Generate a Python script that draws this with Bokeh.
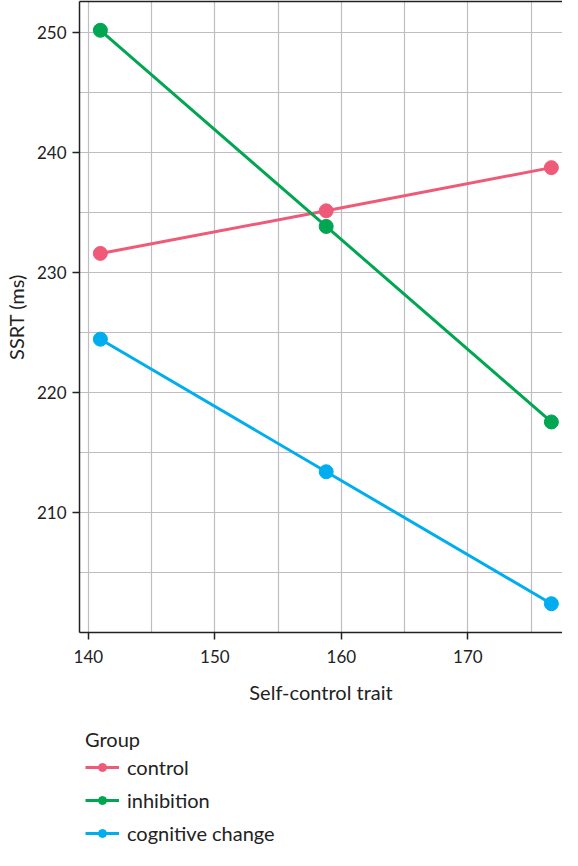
from bokeh.plotting import figure
from bokeh.layouts import column
from bokeh.models import FixedTicker, Range1d, Legend, LegendItem, LinearAxis
from bokeh.embed import file_html
from bokeh.resources import INLINE

trait = [140.95, 158.8, 176.6]
groups = ["control", "inhibition", "cognitive change"]
control = [231.6, 235.15, 238.75]
inhibition = [250.2, 233.85, 217.55]
cognitive = [224.45, 213.4, 202.4]
colors = ["#EE5A78", "#00A651", "#00AEEF"]
x_ticks = [140, 150, 160, 170]
x_minor = [145, 155, 165, 175]
y_ticks = [210, 220, 230, 240, 250]
y_minor = [205, 215, 225, 235, 245]

FONT = "Lato"
INK = "#222222"

p = figure(frame_width=483, frame_height=631, output_backend="svg",
           toolbar_location=None, x_range=Range1d(139.3, 177.48),
           y_range=Range1d(200, 252.6), min_border_top=1, min_border_right=0,
           min_border_left=79, min_border_bottom=0)
p.background_fill_color = "white"
p.border_fill_color = "white"
p.outline_line_color = None

series = [control, inhibition, cognitive]
for vals, name, col in zip(series, groups, colors):
    p.line(trait, vals, line_color=col, line_width=3)
    p.scatter(trait, vals, size=14, fill_color=col, line_color=col)

xax = p.below[0]
yax = p.left[0]
xax.ticker = FixedTicker(ticks=x_ticks, minor_ticks=x_minor)
yax.ticker = FixedTicker(ticks=y_ticks, minor_ticks=y_minor)
for ax in [xax, yax]:
    ax.axis_line_color = INK
    ax.axis_line_width = 1.5
    ax.major_tick_line_color = INK
    ax.major_tick_line_width = 1.5
    ax.major_tick_in = 0
    ax.major_tick_out = 7
    ax.minor_tick_line_color = None
    ax.major_label_text_font = FONT
    ax.major_label_text_font_size = "17px"
    ax.major_label_text_color = INK
    ax.axis_label_text_font = FONT
    ax.axis_label_text_font_size = "20px"
    ax.axis_label_text_font_style = "normal"
    ax.axis_label_text_color = INK
xax.axis_label = "Self-control trait"
yax.axis_label = "SSRT (ms)"
xax.axis_label_standoff = 14
yax.axis_label_standoff = 6
xax.major_label_standoff = 10
yax.major_label_standoff = 6

top = LinearAxis(ticker=FixedTicker(ticks=[]), axis_line_color=INK,
                 axis_line_width=1.5, major_tick_out=0, major_tick_in=0,
                 major_label_standoff=0, major_label_text_font_size="0px",
                 minor_tick_line_color=None, major_tick_line_color=None)
p.add_layout(top, "above")

for g in [p.xgrid[0], p.ygrid[0]]:
    g.grid_line_color = "#BDBDC2"
    g.grid_line_width = 1.2
    g.minor_grid_line_color = "#BDBDC2"
    g.minor_grid_line_width = 1.2

# legend panel: a second figure holding only the legend (its data lies out of view)
LM = 6
q = figure(width=562, height=139, output_backend="svg", toolbar_location=None,
           x_axis_location=None, y_axis_location=None,
           x_range=Range1d(0, 1), y_range=Range1d(0, 1),
           min_border_left=79, min_border_right=0, min_border_top=15,
           min_border_bottom=0)
q.grid.visible = False
q.outline_line_color = None
q.background_fill_color = "white"
items = []
for vals, name, col in zip(series, groups, colors):
    l = q.line(trait, vals, line_color=col, line_width=3)
    c = q.scatter(trait, vals, size=11, fill_color=col, line_color=col)
    items.append(LegendItem(label=name, renderers=[l, c]))

legend = Legend(items=items, title="Group", orientation="vertical",
                location="top_left")
legend.title_text_font = FONT
legend.title_text_font_size = "20px"
legend.title_text_font_style = "normal"
legend.title_text_color = INK
legend.title_standoff = 4
legend.label_text_font = FONT
legend.label_text_font_size = "20px"
legend.label_text_color = INK
legend.glyph_width = 34
legend.glyph_height = 20
legend.label_height = 20
legend.spacing = 9
legend.label_standoff = 8
legend.border_line_color = None
legend.background_fill_alpha = 0
legend.padding = 0
legend.margin = LM
q.add_layout(legend, "center")

layout = column(p, q, spacing=0)
open("out.html", "w").write(file_html(layout, INLINE))
